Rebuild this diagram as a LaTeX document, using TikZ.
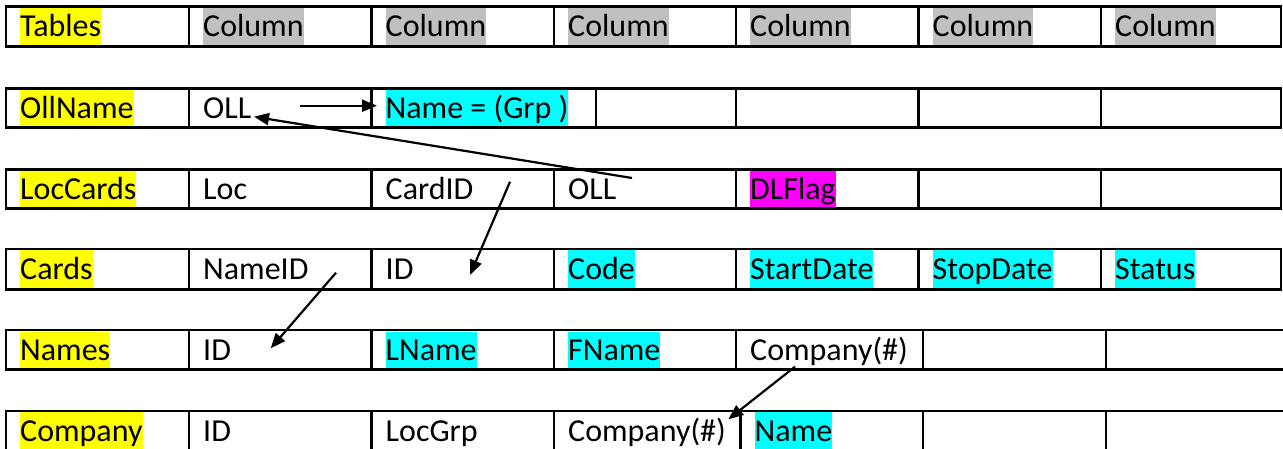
\documentclass[tikz,border=0pt]{standalone}
\usepackage{fontspec}
\setmainfont{Carlito}
\usetikzlibrary{arrows.meta}
\definecolor{hlyellow}{HTML}{FFFF00}
\definecolor{hlgray}{HTML}{C0C0C0}
\definecolor{hlcyan}{HTML}{00FFFF}
\definecolor{hlmagenta}{HTML}{FF00FF}
\begin{document}
\begin{tikzpicture}[x=1pt,y=-1pt,
  txt/.style={anchor=base west, inner sep=0pt, text height=29pt, text depth=9.5pt, font=\fontsize{32}{38}\selectfont},
  yel/.style={txt, fill=hlyellow},
  gry/.style={txt, fill=hlgray},
  cya/.style={txt, fill=hlcyan},
  mag/.style={txt, fill=hlmagenta},
  grid/.style={line width=2.5pt},
  arr/.style={line width=2.2pt, -{Triangle[length=15pt,width=12pt]}}]
\useasboundingbox (0,0) rectangle (1283,448);
\clip (0,0) rectangle (1283,448);
% ---------- Row 1: Tables ----------
\node[yel] (tables) at (20,36.7) {Tables};
\node[gry] (tc1) at (203,36.7) {Column};
\node[gry] (tc2) at (385.5,36.7) {Column};
\node[gry] (tc3) at (568,36.7) {Column};
\node[gry] (tc4) at (750,36.7) {Column};
\node[gry] (tc5) at (932.5,36.7) {Column};
\node[gry] (tc6) at (1115,36.7) {Column};
\draw[grid] (6,6.7) rectangle (1281,46.7);
\foreach \x in {189,371.5,554,736,918.5,1101} \draw[grid] (\x,6.7) -- (\x,46.7);
% ---------- Row 2: OllName ----------
\node[yel] (oll0) at (20,118.3) {OllName};
\node[txt] (oll1) at (203,118.3) {OLL};
\node[cya] (oll2) at (385.5,118.3) {Name = (Grp )};
\draw[grid] (6,88.3) rectangle (1281,127.3);
\foreach \x in {189,371.5,596,736,918.5,1101} \draw[grid] (\x,88.3) -- (\x,127.3);
% ---------- Row 3: LocCards ----------
\node[yel] (lc0) at (20,199.3) {LocCards};
\node[txt] (lc1) at (203,199.3) {Loc};
\node[txt] (lc2) at (385.5,199.3) {CardID};
\node[txt] (lc3) at (568,199.3) {OLL};
\node[mag] (lc4) at (750,199.3) {DLFlag};
\draw[grid] (6,169.3) rectangle (1281,208.7);
\foreach \x in {189,371.5,554,736,918.5,1101} \draw[grid] (\x,169.3) -- (\x,208.7);
% ---------- Row 4: Cards ----------
\node[yel] (cd0) at (20,279.3) {Cards};
\node[txt] (cd1) at (203,279.3) {NameID};
\node[txt] (cd2) at (385.5,279.3) {ID};
\node[cya] (cd3) at (568,279.3) {Code};
\node[cya] (cd4) at (750,279.3) {StartDate};
\node[cya] (cd5) at (932.5,279.3) {StopDate};
\node[cya] (cd6) at (1115,279.3) {Status};
\draw[grid] (6,249) rectangle (1281,289.3);
\foreach \x in {189,371.5,554,736,918.5,1101} \draw[grid] (\x,249) -- (\x,289.3);
% ---------- Row 5: Names ----------
\node[yel] (nm0) at (20,360.5) {Names};
\node[txt] (nm1) at (203,360.5) {ID};
\node[cya] (nm2) at (385.5,360.5) {LName};
\node[cya] (nm3) at (568,360.5) {FName};
\node[txt] (nm4) at (750,360.5) {Company(\#)};
\draw[grid] (6,330) rectangle (1292,369.5);
\foreach \x in {189,371.5,554,736,923,1106} \draw[grid] (\x,330) -- (\x,369.5);
% ---------- Row 6: Company ----------
\node[yel] (co0) at (20,441) {Company};
\node[txt] (co1) at (203,441) {ID};
\node[txt] (co2) at (385.5,441) {LocGrp};
\node[txt] (co3) at (568,441) {Company(\#)};
\node[cya] (co4) at (754.5,441) {Name};
\draw[grid] (6,411) rectangle (1292,452);
\foreach \x in {189,371.5,554,740.5,923,1106} \draw[grid] (\x,411) -- (\x,452);
% ---------- Connectors ----------
\coordinate (a1s) at (300,105.7);
\coordinate (a1e) at (377,105.7);
\coordinate (a2s) at (632,178);
\coordinate (a2e) at (254,116.7);
\coordinate (a3s) at (510,181.7);
\coordinate (a3e) at (470,275);
\coordinate (a4s) at (336,272.7);
\coordinate (a4e) at (270.7,348.3);
\coordinate (a5s) at (795,366.7);
\coordinate (a5e) at (728.3,419.3);
\draw[arr] (a1s) -- (a1e);
\draw[arr] (a2s) -- (a2e);
\draw[arr] (a3s) -- (a3e);
\draw[arr] (a4s) -- (a4e);
\draw[arr] (a5s) -- (a5e);
\end{tikzpicture}
\end{document}
